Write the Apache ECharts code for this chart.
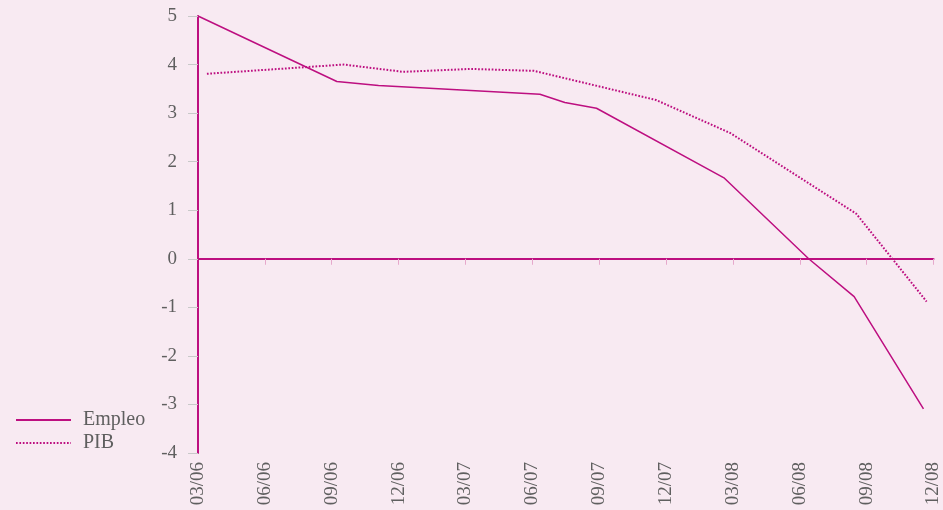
<!DOCTYPE html>
<html>
<head>
<meta charset="utf-8">
<title>Empleo y PIB</title>
<script src="https://cdn.jsdelivr.net/npm/echarts@6/dist/echarts.min.js"></script>
<style>
  html, body { margin: 0; padding: 0; background: #f8eaf2; }
  #chart { width: 943px; height: 510px; }
</style>
</head>
<body>
<div id="chart"></div>
<script>
// etiquetas trimestrales del eje x (cada 3 meses desde 03/06)
var tickLabels = ['03/06', '06/06', '09/06', '12/06', '03/07', '06/07', '09/07', '12/07', '03/08', '06/08', '09/08', '12/08'];

// posición en meses desde 03/06 y valor de cada vértice
var empleoMeses = [0, 6.23, 8.1, 15.34, 16.46, 17.88, 23.62, 27.4, 29.44, 32.55];
var empleoValores = [5.0, 3.65, 3.57, 3.39, 3.22, 3.10, 1.66, 0.0, -0.78, -3.09];

var pibMeses = [0.4, 6.54, 9.21, 12.23, 15.08, 20.55, 23.88, 29.53, 32.69];
var pibValores = [3.81, 4.00, 3.85, 3.91, 3.87, 3.27, 2.59, 0.93, -0.88];

var magenta = '#bd0f80';
var gris = '#5f5f5f';
var fuente = '"Liberation Serif", "DejaVu Serif", serif';

function pares(xs, ys) {
    var out = [];
    for (var i = 0; i < xs.length; i++) out.push([xs[i], ys[i]]);
    return out;
}

var myChart = echarts.init(document.getElementById('chart'));

var option = {
    backgroundColor: '#f8eaf2',
    animation: false,
    grid: { left: 198, right: 3, top: 16, bottom: 57, containLabel: false },
    legend: {
        orient: 'vertical',
        left: 10,
        top: 405,
        itemWidth: 55,
        itemHeight: 14,
        itemGap: 3,
        itemStyle: { opacity: 0 }, // solo la línea, sin símbolo
        textStyle: { color: gris, fontFamily: fuente, fontSize: 20, lineHeight: 20, padding: [0, 0, 0, 7] },
        data: ['Empleo', 'PIB']
    },
    xAxis: [{
        // eje inferior solo con etiquetas
        type: 'value',
        min: 0,
        max: 33,
        interval: 3,
        axisLine: { show: false, onZero: false },
        axisTick: { show: false },
        splitLine: { show: false },
        axisLabel: {
            rotate: 90,
            margin: 9,
            color: gris,
            fontFamily: fuente,
            fontSize: 19,
            formatter: function (v) { return tickLabels[Math.round(v / 3)]; }
        }
    }, {
        // línea del cero con marcas
        type: 'value',
        min: 0,
        max: 33,
        interval: 3,
        position: 'bottom',
        axisLine: { show: true, onZero: true, lineStyle: { color: magenta, width: 2 } },
        axisTick: { show: true, length: 6, lineStyle: { color: '#e6a9cc', width: 1 } },
        splitLine: { show: false },
        axisLabel: { show: false }
    }],
    yAxis: {
        type: 'value',
        min: -4,
        max: 5,
        interval: 1,
        z: 5,
        axisLine: { show: true, onZero: false, lineStyle: { color: magenta, width: 2 } },
        axisTick: { show: true, length: 10, lineStyle: { color: '#c9c9c9', width: 1 } },
        splitLine: { show: false },
        axisLabel: { margin: 21, color: gris, fontFamily: fuente, fontSize: 19 }
    },
    series: [{
        name: 'Empleo',
        type: 'line',
        symbol: 'none',
        data: pares(empleoMeses, empleoValores),
        lineStyle: { color: magenta, width: 1.5 },
        itemStyle: { color: magenta }
    }, {
        name: 'PIB',
        type: 'line',
        symbol: 'none',
        data: pares(pibMeses, pibValores),
        lineStyle: { color: magenta, width: 2, type: [1.7, 1.7] },
        itemStyle: { color: magenta }
    }]
};

myChart.setOption(option);
</script>
</body>
</html>
